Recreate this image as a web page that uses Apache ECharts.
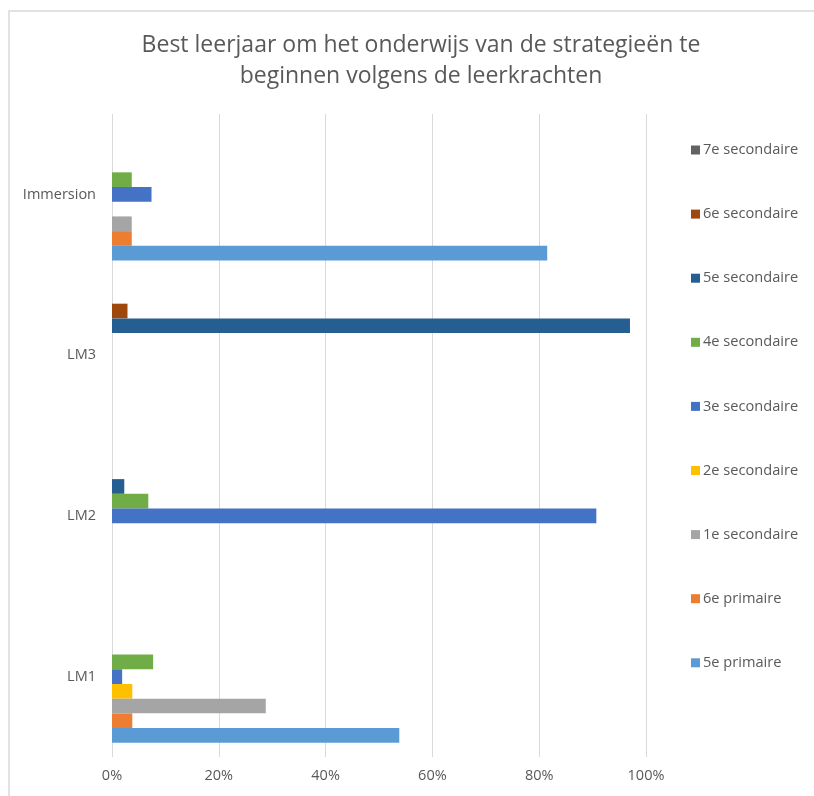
<!DOCTYPE html>
<html>
<head>
<meta charset="utf-8">
<script src="https://cdn.jsdelivr.net/npm/echarts@6/dist/echarts.min.js"></script>
<style>
  html, body { margin: 0; padding: 0; background: #fff; }
  #chart { width: 814px; height: 796px; }
</style>
</head>
<body>
<div id="chart"></div>
<script>
// Teaching groups (bottom to top on the category axis)
const categories = ['LM1', 'LM2', 'LM3', 'Immersion'];

// School year names, from the earliest (drawn lowest in each group) to the latest
const seriesNames = [
  '5e primaire', '6e primaire', '1e secondaire', '2e secondaire', '3e secondaire',
  '4e secondaire', '5e secondaire', '6e secondaire', '7e secondaire'
];

// Share of teachers (%) per group, one array per school year
const v5ePrimaire    = [53.8, null, null, 81.5];
const v6ePrimaire    = [3.8,  null, null, 3.7];
const v1eSecondaire  = [28.8, null, null, 3.7];
const v2eSecondaire  = [3.8,  null, null, null];
const v3eSecondaire  = [1.9,  90.7, null, 7.4];
const v4eSecondaire  = [7.7,  6.8,  null, 3.7];
const v5eSecondaire  = [null, 2.3,  97.0, null];
const v6eSecondaire  = [null, null, 2.9,  null];
const v7eSecondaire  = [null, null, null, null];

const seriesValues = [
  v5ePrimaire, v6ePrimaire, v1eSecondaire, v2eSecondaire, v3eSecondaire,
  v4eSecondaire, v5eSecondaire, v6eSecondaire, v7eSecondaire
];

const xTicks = [0, 20, 40, 60, 80, 100];

const colors = ['#5B9BD5', '#ED7D31', '#A5A5A5', '#FFC000', '#4472C4',
                '#70AD47', '#255E91', '#9E480E', '#636363'];

const textColor = '#595959';
const fontFamily = '"Open Sans", Lato, sans-serif';

// ECharts stacks the first series at the top of a horizontal band,
// so the series are handed over latest-year first.
const order = seriesNames.map((_, i) => seriesNames.length - 1 - i);

const chart = echarts.init(document.getElementById('chart'), null, { renderer: 'canvas' });

chart.setOption({
  animation: false,
  textStyle: { fontFamily: fontFamily },
  title: {
    text: 'Best leerjaar om het onderwijs van de strategieën te\nbeginnen volgens de leerkrachten',
    left: 416,
    textAlign: 'center',
    top: 25,
    textStyle: {
      color: textColor,
      fontSize: 23,
      fontWeight: 'normal',
      lineHeight: 31,
      fontFamily: fontFamily
    }
  },
  graphic: [{
    type: 'rect',
    shape: { x: 9, y: 11, width: 900, height: 900 },
    style: { fill: 'none', stroke: '#d9d9d9', lineWidth: 1.5 },
    silent: true,
    z: -1
  }],
  legend: {
    orient: 'vertical',
    left: 686,
    top: 135,
    data: order.map(i => seriesNames[i]),
    itemWidth: 9,
    itemHeight: 9,
    itemGap: 44.1,
    icon: 'rect',
    textStyle: {
      color: textColor,
      fontSize: 14.6,
      lineHeight: 20,
      padding: [0, 0, 0, -2],
      fontFamily: fontFamily
    }
  },
  grid: {
    left: 112,
    right: 168,
    top: 114,
    bottom: 39,
    containLabel: false
  },
  xAxis: {
    type: 'value',
    min: xTicks[0],
    max: xTicks[xTicks.length - 1],
    interval: 20,
    axisLine: { show: false },
    axisTick: { show: false },
    splitLine: { lineStyle: { color: '#d9d9d9', width: 1 } },
    axisLabel: {
      color: textColor,
      fontSize: 14.5,
      margin: 11,
      formatter: v => v + '%',
      fontFamily: fontFamily
    }
  },
  yAxis: {
    type: 'category',
    data: categories,
    axisLine: { show: false },
    axisTick: { show: false },
    axisLabel: {
      color: textColor,
      fontSize: 14.5,
      margin: 16,
      fontFamily: fontFamily
    }
  },
  series: order.map(i => ({
    name: seriesNames[i],
    type: 'bar',
    data: seriesValues[i],
    barGap: '0%',
    barCategoryGap: '17.7%',
    itemStyle: { color: colors[i] }
  }))
});
</script>
</body>
</html>
